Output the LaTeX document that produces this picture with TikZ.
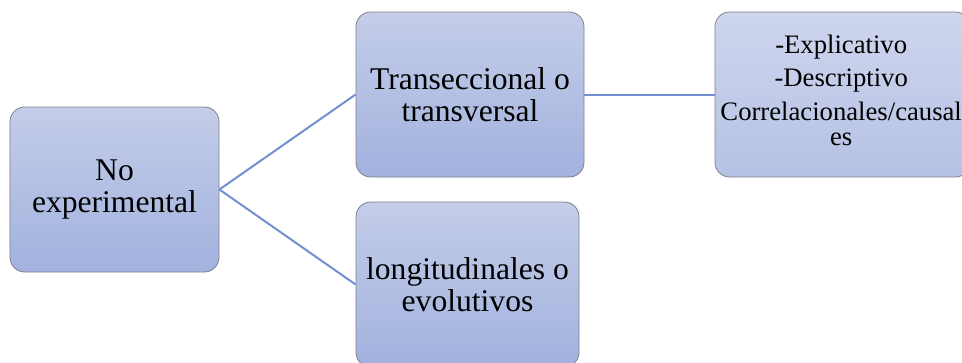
\documentclass[tikz,border=0pt]{standalone}
\usepackage{fontspec}
\setmainfont{Liberation Serif}
\usepackage{tikz}
\usetikzlibrary{positioning}
\definecolor{boxtop}{RGB}{196,205,233}
\definecolor{boxbottom}{RGB}{162,178,222}
\definecolor{leaftop}{RGB}{206,213,237}
\definecolor{leafbottom}{RGB}{182,194,229}
\definecolor{boxline}{RGB}{128,128,138}
\definecolor{linkblue}{RGB}{114,143,208}
\tikzset{
  box/.style={draw=boxline, line width=0.6pt, rounded corners=11pt,
    top color=boxtop, bottom color=boxbottom,
    minimum height=123.75pt, inner sep=0pt, align=center,
    font=\fontsize{23.7pt}{24pt}\selectfont},
  leaf/.style={top color=leaftop, bottom color=leafbottom}}

\begin{document}
\begin{tikzpicture}[on grid,
      link/.style={draw=linkblue, line width=1.5pt}]

    \useasboundingbox (-85.875pt,-129.375pt) rectangle (635.625pt,142.125pt);

    \node[box, minimum width=156.75pt]
      (NoExp) {No\\experimental};
    \node[box, minimum width=171pt]
      (Trans) [above right=71.25pt and 266.625pt of NoExp] {Transeccional o\\transversal};
    \node[box, minimum width=167.25pt]
      (Longi) [below right=71.25pt and 264.75pt of NoExp] {longitudinales o\\evolutivos};
    \node[box, leaf, minimum width=191.25pt]
      (Tipos) [right=279.375pt of Trans] {};
    \node[align=center, inner sep=0pt, font=\fontsize{20pt}{25pt}\selectfont]
      (TiposText) [above=3pt of Tipos, xshift=-1pt] {-Explicativo\\-Descriptivo\\Correlacionales/causal\\[-6pt]es};

    \path[link]
      (NoExp.east) edge (Trans.west)
      (NoExp.east) edge (Longi.west)
      (Trans.east) edge (Tipos.west);

  \end{tikzpicture}
\end{document}
